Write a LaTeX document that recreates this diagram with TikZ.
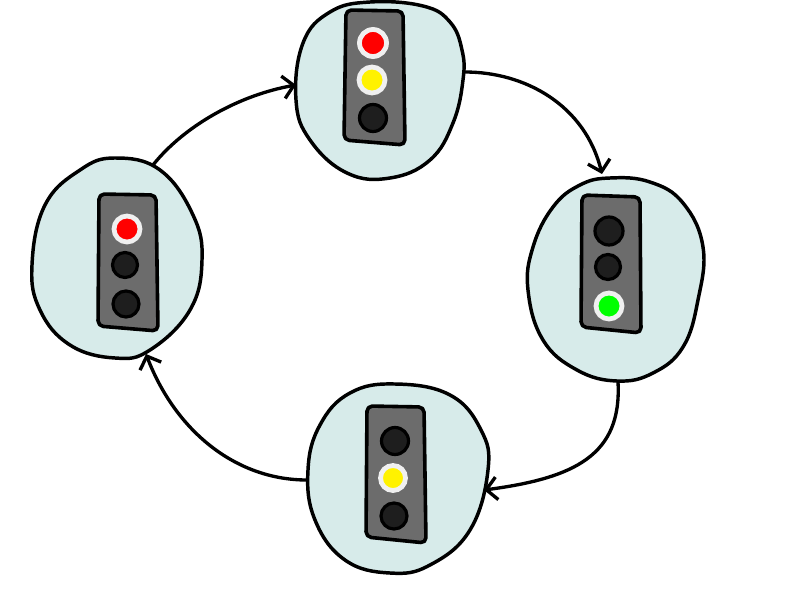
\documentclass[tikz,border=0pt]{standalone}
\usetikzlibrary{arrows.meta}
\definecolor{blobfill}{HTML}{D7EBEA}
\definecolor{boxfill}{HTML}{6C6C6C}
\definecolor{offlamp}{HTML}{1E1E1E}
\definecolor{ringc}{HTML}{F0F0F0}
\tikzset{
  x=0.75pt,y=-0.75pt,
  blobshape/.style={draw=black,fill=blobfill,line width=2.6pt,line join=round},
  housing/.style={draw=black,fill=boxfill,line width=2.7pt,line join=round,rounded corners=4pt},
  offl/.style={circle,draw=black,fill=offlamp,line width=2.4pt,inner sep=0pt,outer sep=0pt,minimum size=#1*0.75pt},
  onl/.style={circle,draw=ringc,line width=3.6pt,inner sep=0pt,outer sep=0pt,minimum size=#1*0.75pt},
  conn/.style={draw=black,line width=2.5pt,line cap=round,line join=round,-{Straight Barb[length=8pt,width=17pt,line width=2.5pt]}},
}
\begin{document}
\begin{tikzpicture}
\useasboundingbox (0,0) rectangle (800,600);
% blobs
\draw[blobshape] plot[smooth cycle,tension=0.7] coordinates {(370,2)(423,6)(450,22)(462,50)(463,80)(453,123)(430,160)(390,178)(347,173)(310,140)(296,100)(303,43)(330,12)};
\draw[blobshape] plot[smooth cycle,tension=0.7] coordinates {(610,178)(650,182)(683,203)(703,247)(698,300)(683,347)(653,373)(617,381)(577,370)(543,340)(528,290)(533,247)(553,207)(580,185)};
\draw[blobshape] plot[smooth cycle,tension=0.7] coordinates {(395,384)(450,395)(481,430)(488,470)(470,530)(430,565)(390,573)(345,560)(315,520)(308,470)(320,425)(350,393)};
\draw[blobshape] plot[smooth cycle,tension=0.7] coordinates {(115,158)(160,170)(193,215)(202,260)(190,310)(150,350)(115,358)(70,345)(40,310)(32,265)(45,205)(80,170)};
% housings
\draw[housing] (346,10) -- (403,11) -- (405,145) -- (344,140) -- cycle;
\draw[housing] (582,195) -- (640,197) -- (641,333) -- (581,327) -- cycle;
\draw[housing] (367,406) -- (424,407) -- (426,543) -- (366,537) -- cycle;
\draw[housing] (99,194) -- (156,195) -- (158,331) -- (98,326) -- cycle;
% lamps
\node[onl=27,fill=red] (t1) at (373,43) {};
\node[onl=26,fill=yellow] (t2) at (372,80) {};
\node[offl=27] (t3) at (373,118) {};
\node[offl=28] (r1) at (609,231) {};
\node[offl=25] (r2) at (608,267) {};
\node[onl=26,fill=green] (r3) at (609,306) {};
\node[offl=27] (b1) at (395,441) {};
\node[onl=25,fill=yellow] (b2) at (393,478) {};
\node[offl=26] (b3) at (394,516) {};
\node[onl=26,fill=red] (l1) at (127,229) {};
\node[offl=25] (l2) at (125,265) {};
\node[offl=26] (l3) at (126,304) {};
% connector ends
\coordinate (lout) at (153,165);
\coordinate (tin) at (296,85);
\coordinate (tout) at (465,72);
\coordinate (rin) at (602,174);
\coordinate (rout) at (618,382);
\coordinate (bin) at (484,490);
\coordinate (bout) at (307,480);
\coordinate (lin) at (146,354);
\draw[conn] (lout) .. controls (185,125) and (240,95) .. (tin);
\draw[conn] (tout) .. controls (525,72) and (585,105) .. (rin);
\draw[conn] (rout) .. controls (622,455) and (575,478) .. (bin);
\draw[conn] (bout) .. controls (235,480) and (175,430) .. (lin);
\end{tikzpicture}
\end{document}
